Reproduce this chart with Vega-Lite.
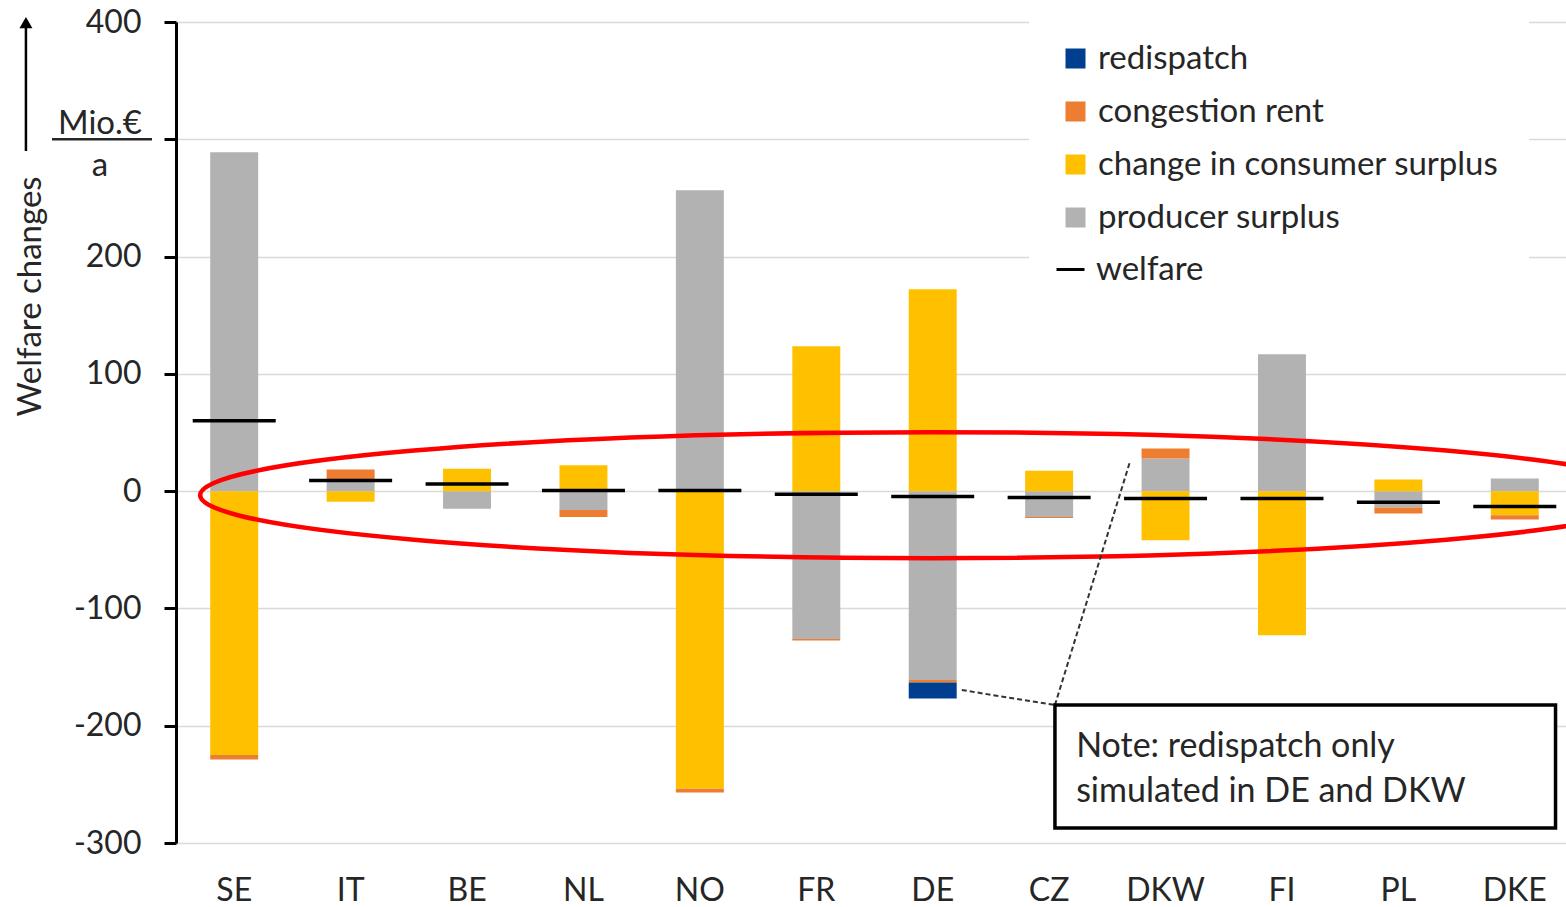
{
  "$schema": "https://vega.github.io/schema/vega-lite/v6.json",
  "width": 1397,
  "height": 821,
  "autosize": {"type": "none"},
  "padding": {"left": 176, "top": 22, "right": 0, "bottom": 64},
  "background": "white",
  "config": {
    "view": {"stroke": null},
    "font": "Lato",
    "axis": {"labelFont": "Lato", "titleFont": "Lato"},
    "legend": {"labelFont": "Lato"},
    "text": {"font": "Lato"}
  },
  "datasets": {
    "components": [
      {"country": "SE", "series": "producer surplus", "value": 289},
      {"country": "SE", "series": "change in consumer surplus", "value": -225},
      {"country": "SE", "series": "congestion rent", "value": -3.7},
      {"country": "IT", "series": "producer surplus", "value": 8},
      {"country": "IT", "series": "change in consumer surplus", "value": -9},
      {"country": "IT", "series": "congestion rent", "value": 10.5},
      {"country": "BE", "series": "producer surplus", "value": -15},
      {"country": "BE", "series": "change in consumer surplus", "value": 19},
      {"country": "NL", "series": "producer surplus", "value": -16},
      {"country": "NL", "series": "change in consumer surplus", "value": 22},
      {"country": "NL", "series": "congestion rent", "value": -6},
      {"country": "NO", "series": "producer surplus", "value": 256.6},
      {"country": "NO", "series": "change in consumer surplus", "value": -253.8},
      {"country": "NO", "series": "congestion rent", "value": -3.1},
      {"country": "FR", "series": "producer surplus", "value": -126},
      {"country": "FR", "series": "change in consumer surplus", "value": 123.6},
      {"country": "FR", "series": "congestion rent", "value": -1.3},
      {"country": "DE", "series": "producer surplus", "value": -161.1},
      {"country": "DE", "series": "change in consumer surplus", "value": 172.2},
      {"country": "DE", "series": "congestion rent", "value": -2},
      {"country": "DE", "series": "redispatch", "value": -13.6},
      {"country": "CZ", "series": "producer surplus", "value": -22},
      {"country": "CZ", "series": "change in consumer surplus", "value": 17.3},
      {"country": "CZ", "series": "congestion rent", "value": -1},
      {"country": "DKW", "series": "producer surplus", "value": 27.9},
      {"country": "DKW", "series": "change in consumer surplus", "value": -41.8},
      {"country": "DKW", "series": "congestion rent", "value": 8.5},
      {"country": "FI", "series": "producer surplus", "value": 116.8},
      {"country": "FI", "series": "change in consumer surplus", "value": -122.8},
      {"country": "PL", "series": "producer surplus", "value": -13.9},
      {"country": "PL", "series": "change in consumer surplus", "value": 10},
      {"country": "PL", "series": "congestion rent", "value": -5.1},
      {"country": "DKE", "series": "producer surplus", "value": 10.8},
      {"country": "DKE", "series": "change in consumer surplus", "value": -20.5},
      {"country": "DKE", "series": "congestion rent", "value": -3.7}
    ],
    "welfare": [
      {"country": "SE", "series": "welfare", "value": 60},
      {"country": "IT", "series": "welfare", "value": 9},
      {"country": "BE", "series": "welfare", "value": 6},
      {"country": "NL", "series": "welfare", "value": 0.5},
      {"country": "NO", "series": "welfare", "value": 0.5},
      {"country": "FR", "series": "welfare", "value": -2.6},
      {"country": "DE", "series": "welfare", "value": -4.5},
      {"country": "CZ", "series": "welfare", "value": -5.4},
      {"country": "DKW", "series": "welfare", "value": -6.2},
      {"country": "FI", "series": "welfare", "value": -6.2},
      {"country": "PL", "series": "welfare", "value": -9.4},
      {"country": "DKE", "series": "welfare", "value": -13}
    ]
  },
  "layer": [
    {
      "layer": [
        {
          "data": {"name": "components"},
          "transform": [
            {"calculate": "indexof(['producer surplus','change in consumer surplus','congestion rent','redispatch'], datum.series)", "as": "stackOrder"}
          ],
          "mark": {"type": "bar", "opacity": 1},
          "encoding": {
            "x": {
              "field": "country", "type": "nominal",
              "sort": ["SE","IT","BE","NL","NO","FR","DE","CZ","DKW","FI","PL","DKE"],
              "scale": {"paddingInner": 0.588, "paddingOuter": 0.294},
              "axis": {"title": null, "domain": false, "ticks": false, "labelAngle": 0, "labelPadding": 32, "labelFontSize": 32, "labelColor": "#262626", "labelBaseline": "top"}
            },
            "y": {
              "field": "value", "type": "quantitative", "stack": "zero",
              "scale": {"domain": [-300, 400], "nice": false, "zero": false},
              "axis": {
                "values": [-300, -200, -100, 0, 100, 200, 300, 400],
                "labelExpr": "datum.value == 300 ? '' : toString(datum.value)",
                "labelFlush": false, "labelOverlap": false,
                "domainColor": "black", "domainWidth": 3,
                "tickColor": "black", "tickWidth": 3, "tickSize": 12,
                "labelPadding": 23, "labelFontSize": 32, "labelColor": "#262626",
                "gridColor": "#d9d9d9", "gridWidth": 1.5,
                "title": "Welfare changes", "titleX": -146, "titleY": 274,
                "titleAngle": 270, "titleAlign": "center", "titleBaseline": "middle",
                "titleFontSize": 33, "titleFontWeight": "normal", "titleColor": "#262626"
              }
            },
            "color": {
              "field": "series", "type": "nominal",
              "scale": {
                "domain": ["redispatch", "congestion rent", "change in consumer surplus", "producer surplus"],
                "range": ["#003f8f", "#ed7d31", "#ffc000", "#b2b2b2"]
              },
              "legend": {
                "title": null, "orient": "none", "legendX": 853, "legendY": -10,
                "direction": "vertical",
                "labelFontSize": 33, "labelColor": "#262626", "labelFont": "Lato", "labelLimit": 800,
                "symbolSize": 400, "symbolType": "square", "symbolStrokeWidth": 0,
                "rowPadding": 19, "labelOffset": 6,
                "fillColor": "white", "padding": 30
              }
            },
            "order": {"field": "stackOrder", "type": "quantitative"}
          }
        },
        {
          "data": {"name": "welfare"},
          "mark": {"type": "tick", "fill": "black", "thickness": 0.5, "strokeWidth": 3, "size": 80, "opacity": 1},
          "encoding": {
            "x": {"field": "country", "type": "nominal", "sort": ["SE","IT","BE","NL","NO","FR","DE","CZ","DKW","FI","PL","DKE"]},
            "y": {"field": "value", "type": "quantitative", "scale": {"domain": [-300, 400], "nice": false, "zero": false}},
            "stroke": {
              "field": "series", "type": "nominal",
              "scale": {"domain": ["welfare"], "range": ["black"]},
              "legend": {
                "title": null, "orient": "none", "legendX": 878, "legendY": 231,
                "labelFontSize": 33, "labelColor": "#262626", "labelFont": "Lato", "labelLimit": 800,
                "symbolType": "stroke", "symbolSize": 784, "symbolStrokeWidth": 3, "symbolStrokeColor": "black",
                "labelOffset": 9, "padding": 0
              }
            }
          }
        }
      ]
    },
    {
      "layer": [
        {
          "data": {"values": [{}]},
          "mark": {"type": "rule", "color": "black", "strokeWidth": 2.5},
          "encoding": {
            "x": {"datum": -1.289, "type": "quantitative", "scale": {"domain": [0, 12], "nice": false, "zero": false}, "axis": null},
            "y": {"datum": 290, "type": "quantitative", "scale": {"domain": [-300, 400], "nice": false, "zero": false}},
            "y2": {"datum": 396}
          }
        },
        {
          "data": {"values": [{}]},
          "mark": {"type": "point", "shape": "triangle-up", "filled": true, "color": "black", "size": 169, "opacity": 1},
          "encoding": {
            "x": {"datum": -1.289, "type": "quantitative", "scale": {"domain": [0, 12], "nice": false, "zero": false}, "axis": null},
            "y": {"datum": 399.5, "type": "quantitative", "scale": {"domain": [-300, 400], "nice": false, "zero": false}}
          }
        },
        {
          "data": {"values": [{}]},
          "mark": {"type": "text", "text": "Mio.€", "fontSize": 33, "align": "center", "baseline": "alphabetic", "color": "#262626"},
          "encoding": {
            "x": {"datum": -0.653, "type": "quantitative", "scale": {"domain": [0, 12], "nice": false, "zero": false}, "axis": null},
            "y": {"datum": 304.4, "type": "quantitative", "scale": {"domain": [-300, 400], "nice": false, "zero": false}}
          }
        },
        {
          "data": {"values": [{}]},
          "mark": {"type": "rule", "color": "#262626", "strokeWidth": 2.5},
          "encoding": {
            "x": {"datum": -1.065, "type": "quantitative", "scale": {"domain": [0, 12], "nice": false, "zero": false}, "axis": null},
            "x2": {"datum": -0.206},
            "y": {"datum": 300, "type": "quantitative", "scale": {"domain": [-300, 400], "nice": false, "zero": false}}
          }
        },
        {
          "data": {"values": [{}]},
          "mark": {"type": "text", "text": "a", "fontSize": 33, "align": "center", "baseline": "alphabetic", "color": "#262626"},
          "encoding": {
            "x": {"datum": -0.653, "type": "quantitative", "scale": {"domain": [0, 12], "nice": false, "zero": false}, "axis": null},
            "y": {"datum": 268.5, "type": "quantitative", "scale": {"domain": [-300, 400], "nice": false, "zero": false}}
          }
        },
        {
          "data": {"values": [{}]},
          "mark": {"type": "point", "shape": "M-1,0A1,0.0863,0,1,0,1,0A1,0.0863,0,1,0,-1,0Z", "filled": false, "stroke": "#ff0000", "strokeWidth": 4.5, "size": 2131600, "opacity": 1},
          "encoding": {
            "x": {"datum": 6.478, "type": "quantitative", "scale": {"domain": [0, 12], "nice": false, "zero": false}, "axis": null},
            "y": {"datum": -3.4, "type": "quantitative", "scale": {"domain": [-300, 400], "nice": false, "zero": false}}
          }
        },
        {
          "data": {"values": [{}]},
          "mark": {"type": "rule", "color": "#333333", "strokeWidth": 2, "strokeDash": [5, 3]},
          "encoding": {
            "x": {"datum": 6.75, "type": "quantitative", "scale": {"domain": [0, 12], "nice": false, "zero": false}, "axis": null},
            "x2": {"datum": 7.55},
            "y": {"datum": -169.6, "type": "quantitative", "scale": {"domain": [-300, 400], "nice": false, "zero": false}},
            "y2": {"datum": -182.4}
          }
        },
        {
          "data": {"values": [{}]},
          "mark": {"type": "rule", "color": "#333333", "strokeWidth": 2, "strokeDash": [5, 3]},
          "encoding": {
            "x": {"datum": 7.55, "type": "quantitative", "scale": {"domain": [0, 12], "nice": false, "zero": false}, "axis": null},
            "x2": {"datum": 8.196},
            "y": {"datum": -182.4, "type": "quantitative", "scale": {"domain": [-300, 400], "nice": false, "zero": false}},
            "y2": {"datum": 25.6}
          }
        },
        {
          "data": {"values": [{}]},
          "mark": {"type": "rect", "fill": "white", "stroke": "black", "strokeWidth": 3.5, "opacity": 1},
          "encoding": {
            "x": {"datum": 7.55, "type": "quantitative", "scale": {"domain": [0, 12], "nice": false, "zero": false}, "axis": null},
            "x2": {"datum": 11.85},
            "y": {"datum": -182.4, "type": "quantitative", "scale": {"domain": [-300, 400], "nice": false, "zero": false}},
            "y2": {"datum": -287.3}
          }
        },
        {
          "data": {"values": [{}]},
          "mark": {"type": "text", "text": ["Note: redispatch only", "simulated in DE and DKW"], "lineHeight": 45, "fontSize": 34, "align": "left", "baseline": "alphabetic", "color": "#262626"},
          "encoding": {
            "x": {"datum": 7.732, "type": "quantitative", "scale": {"domain": [0, 12], "nice": false, "zero": false}, "axis": null},
            "y": {"datum": -226.8, "type": "quantitative", "scale": {"domain": [-300, 400], "nice": false, "zero": false}}
          }
        }
      ]
    }
  ],
  "resolve": {"scale": {"x": "independent"}}
}
